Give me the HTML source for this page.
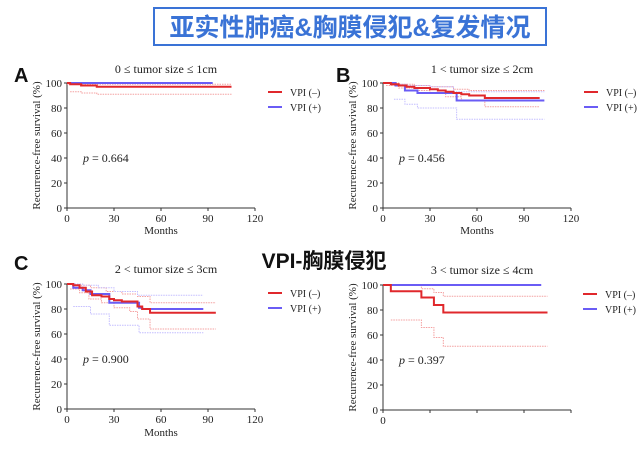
<!DOCTYPE html>
<html><head><meta charset="utf-8">
<style>
html,body{margin:0;padding:0;background:#fff;}
svg{display:block;}
text{font-family:"Liberation Serif",serif;fill:#222;}
.cj{font-family:"Liberation Sans","Noto Sans CJK SC",sans-serif;font-weight:bold;}
</style></head>
<body>
<svg id="c" width="640" height="450" viewBox="0 0 640 450">
<rect x="154" y="8" width="392" height="37" fill="#fff" stroke="#3a73d6" stroke-width="2"/>
<text x="350" y="36" text-anchor="middle" class="cj" font-size="25" style="fill:#3a73d6">亚实性肺癌&amp;胸膜侵犯&amp;复发情况</text>
<text x="14" y="82" class="cj" font-size="20" style="fill:#111">A</text>
<text x="336" y="82" class="cj" font-size="20" style="fill:#111">B</text>
<text x="14" y="270" class="cj" font-size="20" style="fill:#111">C</text>
<text x="324" y="268" text-anchor="middle" class="cj" font-size="21" style="fill:#111">VPI-胸膜侵犯</text>
</svg>
<script>
// Panel titles and p-values
const titles = ["0 ≤ tumor size ≤ 1cm","1 < tumor size ≤ 2cm","2 < tumor size ≤ 3cm","3 < tumor size ≤ 4cm"];
const pvals = ["0.664","0.456","0.900","0.397"];
const xTicks = [0,30,60,90,120];
const yTicks = [0,20,40,60,80,100];
// Each series: times where value steps, values after step, end time
const aRedT=[0,2,9,19], aRedV=[100,99,98,97], aRedEnd=105;
const aBlueT=[0], aBlueV=[100], aBlueEnd=93;
const aRedUpT=[0], aRedUpV=[99], aRedUpEnd=105;
const aRedLoT=[2,9,19], aRedLoV=[93,92,91], aRedLoEnd=105;

const bRedT=[0,5,10,15,20,25,30,35,40,45,50,55,65], bRedV=[100,99,98,97,96,96,95,94,93,92,91,90,88], bRedEnd=100;
const bBlueT=[0,8,14,22,47], bBlueV=[100,98,94,92,86], bBlueEnd=103;
const bRedUpT=[0,10,20,30,45,55], bRedUpV=[100,99,98,97,95,94], bRedUpEnd=103;
const bRedLoT=[2,10,20,30,40,50,65], bRedLoV=[98,96,94,92,89,86,81], bRedLoEnd=100;
const bBlueUpT=[5,15,30,45], bBlueUpV=[99,98,97,93], bBlueUpEnd=103;
const bBlueLoT=[7,14,22,47], bBlueLoV=[87,83,80,71], bBlueLoEnd=103;

const cRedT=[0,4,8,12,16,22,27,30,35,45,48,53], cRedV=[100,99,97,94,91,90,88,87,86,82,80,77], cRedEnd=95;
const cBlueT=[0,4,10,15,27,46,48], cBlueV=[100,97,95,92,85,81,80], cBlueEnd=87;
const cRedUpT=[0,8,15,25,35,45,53], cRedUpV=[100,99,97,94,92,90,85], cRedUpEnd=95;
const cRedLoT=[2,8,14,22,30,40,45,53], cRedLoV=[96,93,88,85,81,78,72,64], cRedLoEnd=95;
const cBlueUpT=[0,10,20,30,45], cBlueUpV=[100,99,97,94,91], cBlueUpEnd=87;
const cBlueLoT=[4,15,27,33,46], cBlueLoV=[82,76,67,67,61], cBlueLoEnd=87;

const dRedT=[0,5,24.5,32.5,38.5], dRedV=[100,95,90,84,78], dRedEnd=105;
const dBlueT=[0], dBlueV=[100], dBlueEnd=101;
const dRedUpT=[0,24.5,32.5,38.5], dRedUpV=[100,97,94,91], dRedUpEnd=105;
const dRedLoT=[5,24.5,32.5,38.5], dRedLoV=[72,66,58,51], dRedLoEnd=105;

const panels=[
 {x0:67,x1:255,y0:208,y1:83,legY:92,legX:268,ty:73,showX:true,my:234,
  series:[[aRedUpT,aRedUpV,aRedUpEnd,'ci-red'],[aRedLoT,aRedLoV,aRedLoEnd,'ci-red'],[aBlueT,aBlueV,aBlueEnd,'blue'],[aRedT,aRedV,aRedEnd,'red']]},
 {x0:383,x1:571,y0:208,y1:83,legY:92,legX:584,ty:73,showX:true,my:234,
  series:[[bRedUpT,bRedUpV,bRedUpEnd,'ci-red'],[bRedLoT,bRedLoV,bRedLoEnd,'ci-red'],[bBlueUpT,bBlueUpV,bBlueUpEnd,'ci-blue'],[bBlueLoT,bBlueLoV,bBlueLoEnd,'ci-blue'],[bBlueT,bBlueV,bBlueEnd,'blue'],[bRedT,bRedV,bRedEnd,'red']]},
 {x0:67,x1:255,y0:409,y1:284,legY:293,legX:268,ty:273,showX:true,my:436,
  series:[[cRedUpT,cRedUpV,cRedUpEnd,'ci-red'],[cRedLoT,cRedLoV,cRedLoEnd,'ci-red'],[cBlueUpT,cBlueUpV,cBlueUpEnd,'ci-blue'],[cBlueLoT,cBlueLoV,cBlueLoEnd,'ci-blue'],[cBlueT,cBlueV,cBlueEnd,'blue'],[cRedT,cRedV,cRedEnd,'red']]},
 {x0:383,x1:571,y0:410,y1:285,legY:294,legX:583,ty:274,showX:false,my:434,
  series:[[dRedUpT,dRedUpV,dRedUpEnd,'ci-red'],[dRedLoT,dRedLoV,dRedLoEnd,'ci-red'],[dBlueT,dBlueV,dBlueEnd,'blue'],[dRedT,dRedV,dRedEnd,'red']]}
];
const styles={'red':['#e0282c',2,''],'blue':['#6a5cf5',2,''],'ci-red':['#f4a0a0',1,'1.5,1'],'ci-blue':['#c4beff',1,'1.5,1']};
const svg=document.getElementById('c');
const NS='http://www.w3.org/2000/svg';
function mk(tag,attrs){const e=document.createElementNS(NS,tag);for(const k in attrs)e.setAttribute(k,attrs[k]);svg.appendChild(e);return e;}
panels.forEach((p,i)=>{
  const sx=t=>p.x0+(p.x1-p.x0)*t/120;
  const sy=v=>p.y0+(p.y1-p.y0)*v/100;
  const ax=mk('path',{d:`M${p.x0},${p.y1} V${p.y0} H${p.x1}`,stroke:'#333','stroke-width':1,fill:'none'});
  
  
  yTicks.forEach(v=>{
    const l=mk('line',{x1:p.x0-3,x2:p.x0,y1:sy(v),y2:sy(v),stroke:'#333'});
    
    
    const t=mk('text',{x:p.x0-5,y:sy(v)+4,'text-anchor':'end','font-size':11});
    t.textContent=v;
    
    
  });
  xTicks.forEach(v=>{
    const l=mk('line',{x1:sx(v),x2:sx(v),y1:p.y0,y2:p.y0+3,stroke:'#333'});
    
    
    if(p.showX||v===0){
      const t=mk('text',{x:sx(v),y:p.y0+14,'text-anchor':'middle','font-size':11});
      t.textContent=v;
      
      
    }
  });
  if(p.showX){
    const m=mk('text',{x:(p.x0+p.x1)/2,y:p.my,'text-anchor':'middle','font-size':11});
    m.textContent='Months';
    
    
  }
  const yl=mk('text',{x:0,y:0,'text-anchor':'middle','font-size':11,transform:`translate(${p.x0-27},${(p.y0+p.y1)/2}) rotate(-90)`});
  yl.textContent='Recurrence-free survival (%)';
  
  
  const tt=mk('text',{x:(p.x0+p.x1)/2+5,y:p.ty,'text-anchor':'middle','font-size':12});
  tt.textContent=titles[i];
  
  
  const pv=mk('text',{x:p.x0+16,y:sy(37),'font-size':12});
  pv.innerHTML='<tspan font-style="italic">p</tspan> = '+pvals[i];
  
  
  p.series.forEach(s=>{
    const [T,V,end,st]=s;
    let d=`M${sx(T[0])},${sy(V[0])}`;
    for(let k=1;k<T.length;k++){d+=` H${sx(T[k])} V${sy(V[k])}`;}
    d+=` H${sx(end)}`;
    const [c,w,da]=styles[st];
    const e=mk('path',{d:d,stroke:c,'stroke-width':w,fill:'none','stroke-dasharray':da||'none'});
    
    
  });
  [['VPI (–)','#e0282c'],['VPI (+)','#6a5cf5']].forEach((L,j)=>{
    const yy=p.legY+j*15;
    const l=mk('line',{x1:p.legX,x2:p.legX+14,y1:yy,y2:yy,stroke:L[1],'stroke-width':2});
    
    
    const t=mk('text',{x:p.legX+22,y:yy+4,'font-size':10});
    t.textContent=L[0];
    
    
  });
});
</script>
</body></html>
